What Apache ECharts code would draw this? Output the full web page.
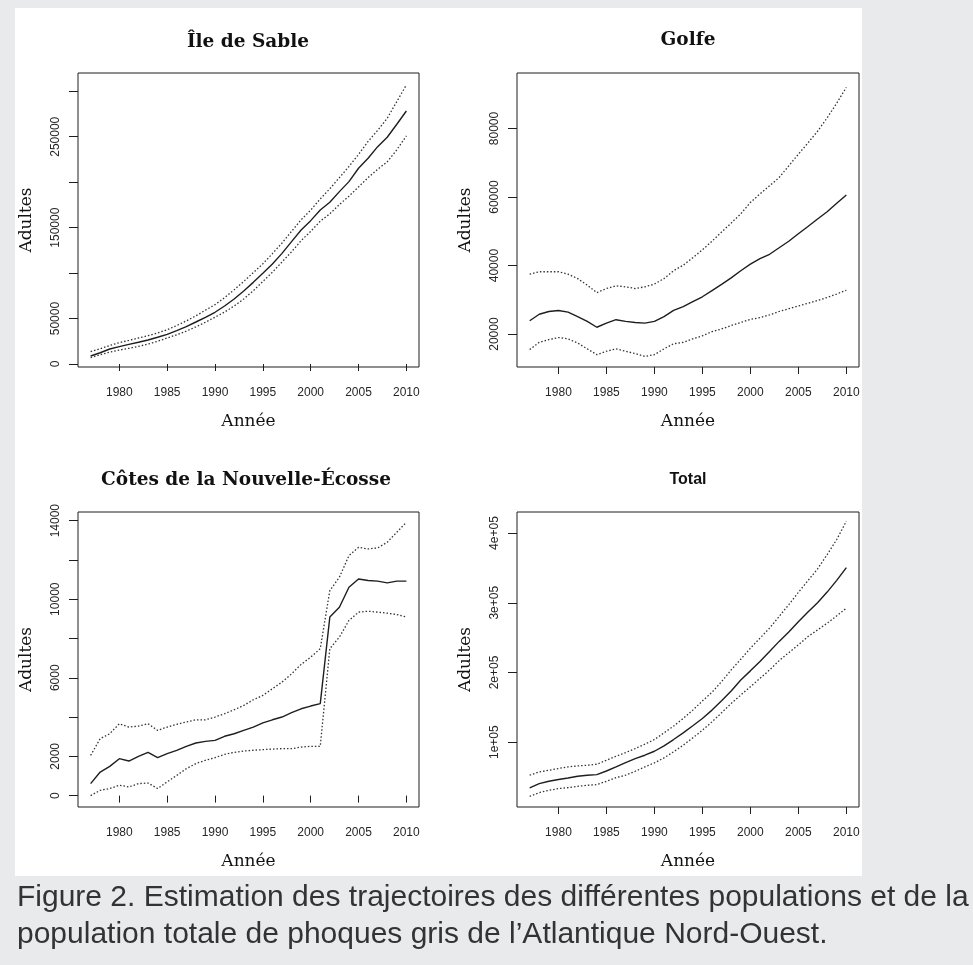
<!DOCTYPE html>
<html>
<head>
<meta charset="utf-8">
<title>Phoques gris</title>
<script src="https://cdn.jsdelivr.net/npm/echarts@6/dist/echarts.min.js"></script>
<style>
  html, body { margin: 0; padding: 0; background: #e9eaec; }
  #chart { width: 973px; height: 965px; }
</style>
</head>
<body>
<div id="chart"></div>
<script>
// années
const years = [1977, 1978, 1979, 1980, 1981, 1982, 1983, 1984, 1985, 1986, 1987, 1988,
  1989, 1990, 1991, 1992, 1993, 1994, 1995, 1996, 1997, 1998, 1999, 2000, 2001, 2002,
  2003, 2004, 2005, 2006, 2007, 2008, 2009, 2010]

// Île de Sable
const sableEst = [8800, 12400, 16500, 19100, 21600, 23900, 26400, 29400, 32600, 36700, 41100, 46200,
  51400, 56900, 63800, 71500, 80300, 89800, 99700, 110000, 121700, 134600, 147400, 157700, 169400, 177900,
  189600, 200600, 215300, 226300, 239100, 249400, 263700, 278300]
const sableHigh = [13600, 16800, 20400, 23500, 26000, 28600, 31100, 34200, 37700, 42300, 47400, 53000,
  59200, 65300, 72900, 81600, 90800, 100500, 110200, 121400, 133100, 145900, 158600, 169300, 181600, 192800,
  205000, 217300, 230500, 244800, 257000, 270300, 288700, 307000]
const sableLow = [7100, 10200, 13100, 15300, 17300, 19400, 21900, 25000, 28600, 32100, 36200, 40800,
  45900, 51500, 57100, 63800, 71400, 80600, 90800, 101000, 112200, 123400, 135700, 145900, 157100, 165200,
  175400, 184600, 194800, 205000, 214200, 222400, 235600, 250900]

// Golfe
const golfeEst = [23900, 25800, 26600, 26900, 26400, 25100, 23700, 22000, 23200, 24200, 23700, 23400,
  23200, 23700, 25100, 26900, 28000, 29500, 30900, 32700, 34500, 36400, 38500, 40400, 42000, 43300,
  45200, 47100, 49300, 51400, 53600, 55700, 58200, 60600]
const golfeHigh = [37500, 38200, 38200, 38200, 37500, 36200, 34300, 32100, 33300, 34100, 33800, 33300,
  33800, 34600, 36200, 38500, 40100, 42300, 44600, 47100, 49800, 52400, 55100, 58400, 60900, 63300,
  65700, 69100, 72500, 75800, 79200, 83100, 87400, 92000]
const golfeLow = [15500, 17600, 18400, 19000, 18600, 17400, 15700, 14000, 15000, 15700, 15000, 14300,
  13500, 14000, 15700, 17200, 17600, 18600, 19500, 20700, 21500, 22500, 23400, 24300, 24800, 25600,
  26600, 27400, 28200, 29000, 29800, 30700, 31700, 32800]

// Côtes de la Nouvelle-Écosse
const cotesEst = [610, 1200, 1490, 1880, 1760, 2000, 2200, 1930, 2140, 2300, 2510, 2680,
  2760, 2810, 3020, 3150, 3320, 3490, 3700, 3860, 4000, 4220, 4420, 4560, 4680, 9090,
  9590, 10610, 11030, 10950, 10920, 10830, 10920, 10920]
const cotesHigh = [2050, 2900, 3150, 3660, 3490, 3540, 3660, 3320, 3490, 3630, 3750, 3860,
  3860, 4000, 4170, 4370, 4590, 4880, 5100, 5440, 5780, 6200, 6680, 7050, 7480, 10440,
  11120, 12220, 12640, 12560, 12610, 12900, 13410, 13920]
const cotesLow = [0, 270, 360, 530, 440, 610, 640, 360, 700, 1030, 1370, 1630,
  1800, 1930, 2100, 2200, 2270, 2310, 2340, 2370, 2390, 2390, 2470, 2510, 2510, 7480,
  8070, 8920, 9340, 9390, 9340, 9290, 9220, 9090]

// Total
const totalEst = [34400, 40600, 43900, 46400, 48700, 51100, 52600, 53500, 58700, 64600, 70800, 76500,
  81300, 87000, 94800, 103800, 113400, 123500, 134000, 146000, 159400, 173500, 189300, 202300, 215800, 230100,
  244600, 258100, 272600, 286600, 300000, 315300, 332100, 350300]
const totalHigh = [52600, 57300, 59800, 62200, 64600, 66000, 66900, 68400, 74100, 79900, 85100, 90900,
  97100, 103800, 113400, 123100, 134000, 146000, 159100, 171600, 186900, 203700, 219000, 234800, 249200, 263600,
  280400, 297200, 314900, 331700, 348500, 369000, 390700, 417100]
const totalLow = [22400, 27700, 31000, 33400, 34800, 36700, 38200, 39100, 44000, 49200, 52600, 58300,
  64600, 70300, 77500, 86200, 95700, 106200, 117200, 129200, 142200, 155600, 167600, 179500, 191500, 203600,
  217000, 228400, 239500, 251500, 261000, 270600, 281200, 292300]

// graduations
const xTicks = [1980, 1985, 1990, 1995, 2000, 2005, 2010]
const sableTicks = [0, 50000, 100000, 150000, 200000, 250000, 300000]
const sableLabels = [0, 50000, 150000, 250000]
const golfeTicks = [20000, 40000, 60000, 80000]
const cotesTicks = [0, 2000, 4000, 6000, 8000, 10000, 12000, 14000]
const cotesLabels = [0, 2000, 6000, 10000, 14000]
const totalTicks = [100000, 200000, 300000, 400000]

const panels = [
  { title: 'Île de Sable', est: sableEst, high: sableHigh, low: sableLow,
    ticks: sableTicks, labels: sableLabels, ymin: -3300, ymax: 320100,
    grid: { left: 78, top: 73, width: 341, height: 294 }, titleX: 248, titleY: 33, serifTitle: true },
  { title: 'Golfe', est: golfeEst, high: golfeHigh, low: golfeLow,
    ticks: golfeTicks, labels: golfeTicks, ymin: 10400, ymax: 96200,
    grid: { left: 517, top: 73, width: 342, height: 294 }, titleX: 688, titleY: 31, serifTitle: true },
  { title: 'Côtes de la Nouvelle-Écosse', est: cotesEst, high: cotesHigh, low: cotesLow,
    ticks: cotesTicks, labels: cotesLabels, ymin: -580, ymax: 14440,
    grid: { left: 78, top: 512, width: 341, height: 295 }, titleX: 246, titleY: 471, serifTitle: true },
  { title: 'Total', est: totalEst, high: totalHigh, low: totalLow,
    ticks: totalTicks, labels: totalTicks, ymin: 7040, ymax: 430170,
    grid: { left: 517, top: 512, width: 342, height: 295 }, titleX: 688, titleY: 472, serifTitle: false,
    fmt: v => (v / 100000) + 'e+05' }
]

const ink = '#1e1e1e'
const tickFont = { color: '#262626', fontSize: 12, fontFamily: 'Liberation Sans' }
const nameFont = { color: '#111', fontSize: 17, fontFamily: 'DejaVu Serif' }

const chart = echarts.init(document.getElementById('chart'))

const grid = []
const xAxis = []
const yAxis = []
const title = []
const series = []

panels.forEach((p, i) => {
  grid.push(Object.assign({
    show: true, borderColor: ink, borderWidth: 1, backgroundColor: 'transparent',
    containLabel: false, outerBoundsMode: 'none'
  }, p.grid))

  xAxis.push({
    type: 'value', gridIndex: i, min: 1975.68, max: 2011.32,
    name: 'Année', nameLocation: 'middle', nameGap: 46, nameMoveOverlap: false,
    nameTextStyle: nameFont,
    axisLine: { show: false },
    axisTick: { show: true, customValues: xTicks, length: 7, lineStyle: { color: ink } },
    axisLabel: Object.assign({ customValues: xTicks, margin: 20, formatter: v => String(v) }, tickFont),
    splitLine: { show: false }
  })

  yAxis.push({
    type: 'value', gridIndex: i, min: p.ymin, max: p.ymax,
    name: 'Adultes', nameLocation: 'middle', nameGap: 43, nameRotate: 90, nameMoveOverlap: false,
    nameTextStyle: nameFont,
    axisLine: { show: false },
    axisTick: { show: true, customValues: p.ticks, length: 9, lineStyle: { color: ink } },
    axisLabel: Object.assign({
      customValues: p.labels, margin: 16, rotate: 90,
      formatter: p.fmt || (v => String(v))
    }, tickFont),
    splitLine: { show: false }
  })

  title.push({
    text: p.title, left: p.titleX, top: p.titleY, textAlign: 'center', padding: 0,
    textStyle: p.serifTitle
      ? { fontFamily: 'DejaVu Serif', fontWeight: 'bold', fontSize: 18.5, color: '#111' }
      : { fontFamily: 'Liberation Sans', fontWeight: 'bold', fontSize: 16, color: '#111' }
  })

  const pts = arr => years.map((y, k) => [y, arr[k]])
  series.push(
    { type: 'line', xAxisIndex: i, yAxisIndex: i, data: pts(p.low), showSymbol: false,
      lineStyle: { color: '#333', width: 1.3, type: [1.5, 2] }, silent: true },
    { type: 'line', xAxisIndex: i, yAxisIndex: i, data: pts(p.high), showSymbol: false,
      lineStyle: { color: '#333', width: 1.3, type: [1.5, 2] }, silent: true },
    { type: 'line', xAxisIndex: i, yAxisIndex: i, data: pts(p.est), showSymbol: false,
      lineStyle: { color: ink, width: 1.4 }, silent: true }
  )
})

chart.setOption({
  backgroundColor: '#e9eaec',
  animation: false,
  title,
  grid,
  xAxis,
  yAxis,
  series,
  graphic: [
    { type: 'rect', z: -10, shape: { x: 15, y: 8, width: 847, height: 868 }, style: { fill: '#fff' } },
    { type: 'text', x: 17, y: 898, style: {
      text: 'Figure 2. Estimation des trajectoires des différentes populations et de la',
      font: '30px "Liberation Sans"', fill: '#333', verticalAlign: 'middle' } },
    { type: 'text', x: 17, y: 935, style: {
      text: 'population totale de phoques gris de l’Atlantique Nord-Ouest.',
      font: '30px "Liberation Sans"', fill: '#333', verticalAlign: 'middle' } }
  ]
})
</script>
</body>
</html>
